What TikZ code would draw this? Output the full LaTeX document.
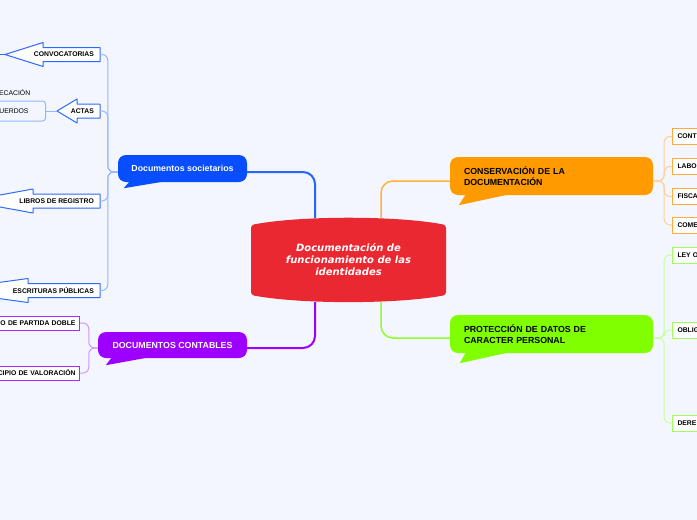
\documentclass[tikz,border=0pt]{standalone}
\usepackage{fontspec}
\setmainfont{Liberation Sans}
\newfontfamily\centrofont{DejaVu Sans}
\usetikzlibrary{positioning,calc}

\definecolor{fondo}{RGB}{243,246,254}
\definecolor{rojo}{RGB}{233,40,49}
\definecolor{azul}{RGB}{8,78,255}
\definecolor{azulborde}{RGB}{45,105,255}
\definecolor{azulclaro}{RGB}{150,182,255}
\definecolor{morado}{RGB}{158,0,255}
\definecolor{moradoborde}{RGB}{170,40,255}
\definecolor{moradoclaro}{RGB}{205,150,255}
\definecolor{naranja}{RGB}{255,155,0}
\definecolor{naranjaborde}{RGB}{255,172,60}
\definecolor{naranjaclaro}{RGB}{255,208,150}
\definecolor{verde}{RGB}{128,255,0}
\definecolor{verdeborde}{RGB}{160,255,90}
\definecolor{verdeclaro}{RGB}{196,255,160}

\tikzset{
  rama/.style={rounded corners=8pt,inner sep=0pt,font=\bfseries\fontsize{8.8}{11.5}\selectfont},
  hoja/.style={font=\bfseries\fontsize{6.8}{8}\selectfont,inner xsep=6pt,inner ysep=0pt,minimum height=14pt},
  flecha/.style={draw=azulborde,fill=white,line width=1pt,line join=round},
  tronco/.style={line width=1pt,rounded corners=6pt},
  eje/.style={line width=2pt,rounded corners=12pt}
}

\begin{document}
\begin{tikzpicture}[x=1pt,y=-1pt]
  \useasboundingbox (0,0) rectangle (697,520);
  \fill[fondo] (0,0) rectangle (697,520);
  \clip (0,0) rectangle (697,520);

  % central node, barrel shaped
  \fill[rojo,rounded corners=3pt] (251,225) .. controls (300,215.5) and (397,215.5) .. (446,225)
     -- (446,295) .. controls (397,304.3) and (300,304.3) .. (251,295) -- cycle;
  \node[minimum width=195pt,minimum height=84pt,text=white,align=center,
        font=\centrofont\bfseries\itshape\fontsize{10}{12}\selectfont] (centro) at (348.5,260)
     {Documentación de\\funcionamiento de las\\identidades};

  % main branches
  \node[rama,fill=azul,text=white,minimum width=129pt,minimum height=27pt] (soc) at (182.5,168.5) {Documentos societarios};
  \fill[azul] ([xshift=12pt,yshift=1pt]soc.south west) -- ([xshift=6pt,yshift=-6pt]soc.south west) -- ([xshift=48pt,yshift=1pt]soc.south west) -- cycle;

  \node[rama,fill=morado,text=white,minimum width=149pt,minimum height=26pt] (cont) at (172.5,345) {DOCUMENTOS CONTABLES};
  \fill[morado] ([xshift=14pt,yshift=1pt]cont.south west) -- ([xshift=8pt,yshift=-7pt]cont.south west) -- ([xshift=52pt,yshift=1pt]cont.south west) -- cycle;

  \node[rama,fill=naranja,minimum width=203pt,minimum height=38pt,text width=175pt,align=left] (cons) at (551.5,176) {CONSERVACIÓN DE LA\\DOCUMENTACIÓN};
  \fill[naranja] ([xshift=16pt,yshift=1pt]cons.south west) -- ([xshift=9pt,yshift=-10pt]cons.south west) -- ([xshift=60pt,yshift=1pt]cons.south west) -- cycle;

  \node[rama,fill=verde,minimum width=203pt,minimum height=38pt,text width=175pt,align=left] (prot) at (551.5,334) {PROTECCIÓN DE DATOS DE\\CARACTER PERSONAL};
  \fill[verde] ([xshift=16pt,yshift=1pt]prot.south west) -- ([xshift=10pt,yshift=-10pt]prot.south west) -- ([xshift=60pt,yshift=1pt]prot.south west) -- cycle;

  \draw[eje,draw={rgb,255:red,40;green,100;blue,255}] ([xshift=-33.5pt]centro.north) |- ([yshift=-3.5pt]soc.east);
  \draw[eje,draw={rgb,255:red,255;green,178;blue,60},line width=1.5pt] ([xshift=32.5pt]centro.north) |- ([yshift=-5pt]cons.west);
  \draw[eje,draw=morado] ([xshift=-33.5pt]centro.south) |- ([yshift=-3pt]cont.east);
  \draw[eje,draw={rgb,255:red,140;green,255;blue,40},line width=1.5pt] ([xshift=32.5pt]centro.south) |- ([yshift=-4pt]prot.west);

  % societarios: arrow shaped leaves
  \foreach \n/\y/\b/\p/\t in {conv/54.5/43/5/CONVOCATORIAS, actas/111/77/57/ACTAS,
      libros/201/33/-33/LIBROS DE REGISTRO, escr/290.5/28/-60/ESCRITURAS PÚBLICAS}{
    \draw[flecha] (100,{\y-7}) -- (\b,{\y-7}) -- (\b,{\y-12}) -- (\p,\y) -- (\b,{\y+12}) -- (\b,{\y+7}) -- (100,{\y+7}) -- cycle;
    \coordinate (\n-tip) at (\p,\y);
    \node[hoja,anchor=east] (\n) at (100,\y) {\t};
    \draw[tronco,draw=azulclaro] ([yshift=-3.5pt]soc.west) -- ++(-10pt,0) |- (\n.east);
  }
  \coordinate (conv-sig) at (-12,54.5);
  \draw[line width=1pt,draw=azulborde] (conv-tip) -- (conv-sig);
  \node[anchor=west,inner sep=0pt,font=\fontsize{6.8}{8}\selectfont] (ecac) at (-1,93) {ECACIÓN};
  \node[draw=azulclaro,line width=1pt,fill=fondo,rounded corners=3pt,anchor=east,text width=60pt,align=right,
        inner xsep=17pt,minimum height=20pt,font=\fontsize{6.8}{8}\selectfont] (acuerdos) at (46,111) {UERDOS};
  \draw[line width=1pt,draw=azulclaro] (actas-tip) -- (acuerdos.east);

  % contables
  \foreach \n/\y/\t in {partida/323/O DE PARTIDA DOBLE, valor/373/CIPIO DE VALORACIÓN}{
    \node[hoja,draw=moradoborde,line width=1pt,fill=white,anchor=east,text width=110pt,align=right,inner xsep=4pt] (\n) at (80,\y) {\t};
    \draw[tronco,draw=moradoclaro] ([yshift=-3pt]cont.west) -- ++(-9pt,0) |- (\n.east);
  }

  % conservacion
  \foreach \n/\y/\t in {contab/136.5/CONT, labo/166.5/LABO, fisca/196.5/FISCA, come/225/COME}{
    \node[hoja,draw=naranjaborde,line width=1pt,fill=white,anchor=west,text width=60pt,align=left,inner xsep=5pt,minimum height=16pt] (\n) at (672,\y) {\t};
    \draw[tronco,draw=naranjaclaro] ([yshift=-5pt]cons.east) -- ++(11pt,0) |- (\n.west);
  }

  % proteccion de datos
  \foreach \n/\y/\t in {ley/255/LEY O, oblig/330/OBLIG, dere/423/DERE}{
    \node[hoja,draw=verdeborde,line width=1pt,fill=white,anchor=west,text width=60pt,align=left,inner xsep=5pt,minimum height=16pt] (\n) at (672,\y) {\t};
    \draw[tronco,draw=verdeclaro] ([yshift=-4pt]prot.east) -- ++(11pt,0) |- (\n.west);
  }
\end{tikzpicture}
\end{document}
